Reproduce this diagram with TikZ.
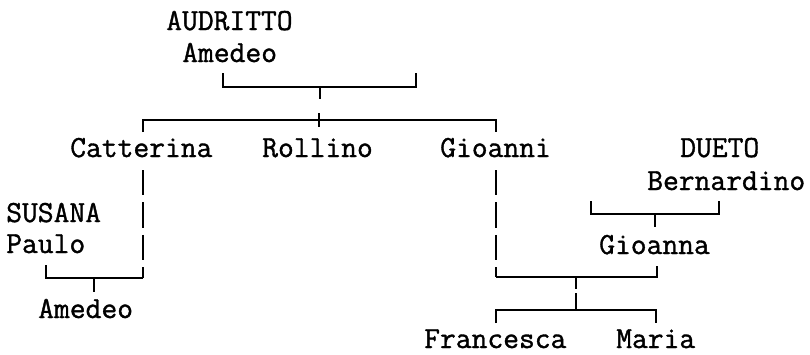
\documentclass[tikz,border=0pt]{standalone}
\usepackage{fontspec}
\newfontfamily\namefont{Latin Modern Mono}[FakeBold=1.2]
\usetikzlibrary{positioning}
\tikzset{
    person/.style  = {anchor=base west, inner sep=0pt,
                      font=\fontsize{23}{28}\selectfont\namefont},
    tie/.style     = {line width=1.1pt},
    rowline/.style = {tie, dash pattern=on 19.1pt off 5.2pt}
}

\begin{document}
\begin{tikzpicture}[x=0.75pt, y=-0.75pt]
    \useasboundingbox (0,0) rectangle (810,354);

    % people
    \node[person] (audritto)   at (166,30)  {AUDRITTO};
    \node[person] (amedeo-a)   at (182,62)  {Amedeo};
    \node[person] (catterina)  at (70,157)  {Catterina};
    \node[person] (rollino)    at (262,157) {Rollino};
    \node[person] (gioanni)    at (440,157) {Gioanni};
    \node[person] (dueto)      at (680,157) {DUETO};
    \node[person] (bernardino) at (647,190) {Bernardino};
    \node[person] (susana)     at (6,222)   {SUSANA};
    \node[person] (paulo)      at (6,253)   {Paulo};
    \node[person] (gioanna)    at (599,254) {Gioanna};
    \node[person] (amedeo-b)   at (38,318)  {Amedeo};
    \node[person] (francesca)  at (424,348) {Francesca};
    \node[person] (maria)      at (616,348) {Maria};

    % junctions
    \coordinate (aud-l)  at (223,73);
    \coordinate (aud-r)  at (416,73);
    \coordinate (aud-m)  at (320,87);
    \coordinate (kids-l) at (143,132);
    \coordinate (kids-r) at (496,132);
    \coordinate (kids-m) at (319,120);
    \coordinate (cat-t)  at (143,170);
    \coordinate (cat-b)  at (143,278);
    \coordinate (pau-e)  at (46,265);
    \coordinate (ame-m)  at (94,278);
    \coordinate (gio-t)  at (496,170);
    \coordinate (gio-b)  at (496,277);
    \coordinate (gna-e)  at (657,266);
    \coordinate (gio-m)  at (576,277);
    \coordinate (fra-e)  at (496,323);
    \coordinate (mar-e)  at (656,323);
    \coordinate (ber-l)  at (591,201);
    \coordinate (ber-r)  at (719,201);
    \coordinate (ber-m)  at (655,214);

    \draw[tie] (aud-l) -- ++(0,14) -| (aud-r);
    \draw[tie] (aud-m) -- ++(0,12);
    \draw[tie] (kids-l) -- ++(0,-12) -| (kids-r);
    \draw[tie] (kids-m) ++(0,-7) -- ++(0,14);

    \draw[rowline] (cat-t) -- (cat-b);
    \draw[tie] (cat-b) -| (pau-e);
    \draw[tie] (ame-m) -- ++(0,14);

    \draw[tie] (ber-l) -- ++(0,13) -| (ber-r);
    \draw[tie] (ber-m) -- ++(0,13);

    \draw[rowline] (gio-t) -- (gio-b);
    \draw[tie] (gio-b) -| (gna-e);
    \draw[tie] (gio-m) -- ++(0,12);
    \draw[tie] (gio-m) ++(0,16) -- ++(0,16);
    \draw[tie] (fra-e) -- ++(0,-13) -| (mar-e);
\end{tikzpicture}
\end{document}
